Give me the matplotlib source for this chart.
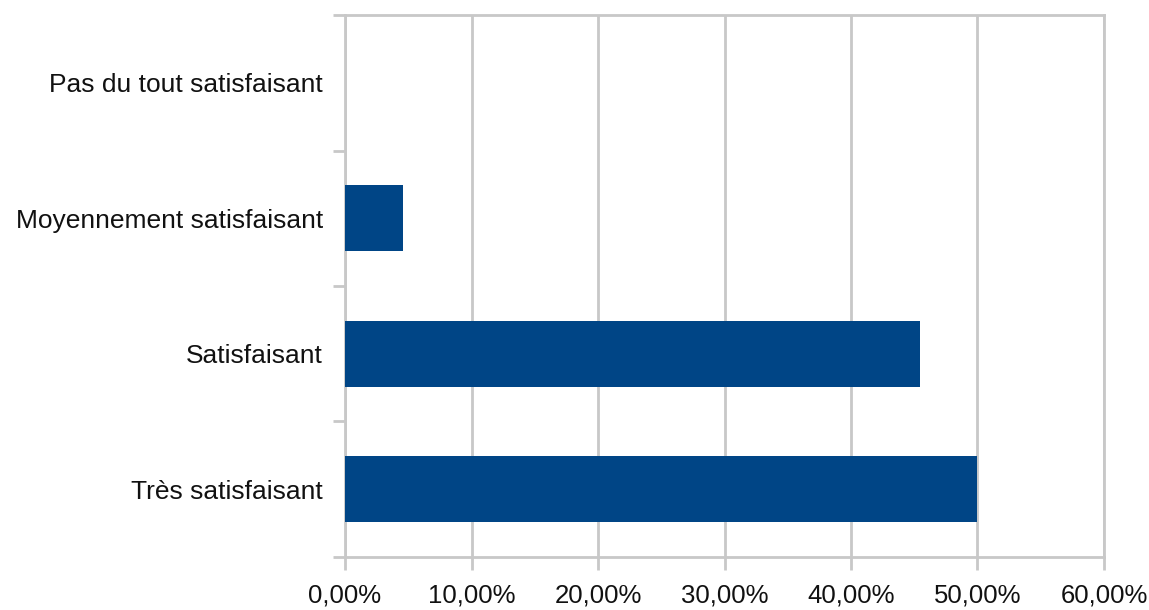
import matplotlib
matplotlib.use('Agg')
import matplotlib.pyplot as plt
from matplotlib.ticker import FuncFormatter

# satisfaction answers, bottom to top
categories = ['Très satisfaisant', 'Satisfaisant', 'Moyennement satisfaisant', 'Pas du tout satisfaisant']
shares = [50.0, 45.45, 4.55, 0.0]
x_ticks = [0, 10, 20, 30, 40, 50, 60]

grey = '#c8c8c8'
plt.rcParams['font.family'] = ['Liberation Sans', 'DejaVu Sans']

fig = plt.figure(figsize=(11.49, 6.10), dpi=100)
ax = fig.add_axes([0.3003, 0.0869, 0.6605, 0.8885])

pos = list(range(len(categories)))
ax.barh(pos, shares, height=0.49, color='#004586', zorder=3)

ax.set_xlim(0, 60)
ax.set_ylim(-0.5, len(categories) - 0.5)
ax.set_xticks(x_ticks)
ax.xaxis.set_major_formatter(FuncFormatter(lambda v, p: ('%.2f%%' % v).replace('.', ',')))
ax.set_yticks(pos)
ax.set_yticklabels(categories)
ax.set_yticks([p - 0.5 for p in pos] + [len(categories) - 0.5], minor=True)

ax.grid(axis='x', color=grey, linewidth=2, zorder=0)
for s in ax.spines.values():
    s.set_color(grey)
    s.set_linewidth(2)

ax.tick_params(axis='y', which='major', length=0, pad=16, labelsize=19, labelcolor='#111111')
ax.tick_params(axis='y', which='minor', length=9, width=2, color=grey)
ax.tick_params(axis='x', length=9, width=2, color=grey, pad=10, labelsize=18.5, labelcolor='#111111')

fig.savefig('out.png', dpi=100)
